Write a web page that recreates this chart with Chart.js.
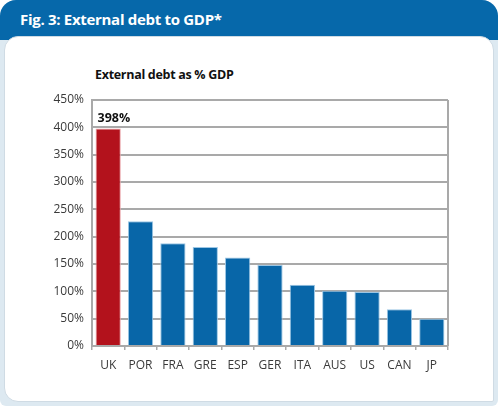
<!DOCTYPE html>
<html>
<head>
<meta charset="utf-8">
<script src="https://cdn.jsdelivr.net/npm/chart.js@4"></script>
<style>
  html, body { margin: 0; padding: 0; background: #ffffff; }
  #wrap { position: relative; width: 500px; height: 409px; overflow: hidden; }
  #outer { position: absolute; left: 0; top: 0; width: 498px; height: 406px;
           background: #dde9f1; border-radius: 16px 16px 6px 6px; }
  #header { position: absolute; left: 0; top: 0; width: 498px; height: 40px;
            background: #0668aa; border-radius: 16px 16px 0 0; }
  #htitle { position: absolute; left: 20px; top: 9px; color: #ffffff;
            font: bold 15px "Open Sans", "Noto Sans", sans-serif; letter-spacing: -0.3px; }
  #panel { position: absolute; left: 4px; top: 36px; width: 488px; height: 364px;
           background: #ffffff; border-radius: 14px 14px 2px 14px;
           border: 1px solid #cfdbe4; }
  #sub { position: absolute; left: 95px; top: 66px; color: #111;
         font: bold 12.5px "Open Sans", "Noto Sans", sans-serif; letter-spacing: -0.3px; }
  #c { position: absolute; left: 0; top: 0; }
</style>
</head>
<body>
<div id="wrap">
  <div id="outer"></div>
  <div id="header"></div>
  <div id="htitle">Fig. 3: External debt to GDP*</div>
  <div id="panel"></div>
  <div id="sub">External debt as % GDP</div>
  <canvas id="c" width="500" height="409"></canvas>
</div>
<script>
const categories = ["UK", "POR", "FRA", "GRE", "ESP", "GER", "ITA", "AUS", "US", "CAN", "JP"];
const debtPctGdp = [398, 228, 188, 181, 162, 148, 112, 101, 99, 67, 50];
const barColors = ["#b3121c", "#0866a8", "#0866a8", "#0866a8", "#0866a8", "#0866a8", "#0866a8", "#0866a8", "#0866a8", "#0866a8", "#0866a8"];
const barEdges = ["#e9a3a8", "#9cc6e4", "#9cc6e4", "#9cc6e4", "#9cc6e4", "#9cc6e4", "#9cc6e4", "#9cc6e4", "#9cc6e4", "#9cc6e4", "#9cc6e4"];
const labelledIndex = 0;

const frameAndLabel = {
  id: 'frameAndLabel',
  afterDatasetsDraw(chart) {
    const ctx = chart.ctx;
    const a = chart.chartArea;
    ctx.save();
    ctx.strokeStyle = '#a9a9a9';
    ctx.lineWidth = 2;
    ctx.beginPath();
    ctx.moveTo(a.right, a.top);
    ctx.lineTo(a.right, a.bottom);
    ctx.stroke();
    const bar = chart.getDatasetMeta(0).data[labelledIndex];
    ctx.fillStyle = '#111';
    ctx.font = 'bold 12.5px "Open Sans", "Noto Sans", sans-serif';
    ctx.textAlign = 'left';
    ctx.textBaseline = 'alphabetic';
    ctx.fillText(debtPctGdp[labelledIndex] + '%', bar.x - bar.width / 2 + 2, bar.y - 6);
    ctx.restore();
  }
};

new Chart(document.getElementById('c'), {
  type: 'bar',
  data: {
    labels: categories,
    datasets: [{
      data: debtPctGdp,
      backgroundColor: barColors,
      borderColor: barEdges,
      borderWidth: 1,
      categoryPercentage: 1,
      barPercentage: 0.78
    }]
  },
  options: {
    responsive: false,
    animation: false,
    layout: { padding: { top: 100, left: 40, right: 52, bottom: 30 } },
    plugins: { legend: { display: false }, title: { display: false }, tooltip: { enabled: false } },
    scales: {
      y: {
        min: 0, max: 450,
        afterFit(s) { s.width = 52; },
        ticks: { stepSize: 50, padding: 8, color: '#3a3a3a',
                 font: { family: '"Open Sans", "Noto Sans", sans-serif', size: 12 },
                 callback: v => v + '%' },
        grid: { color: '#a9a9a9', lineWidth: 2, drawTicks: false },
        border: { display: true, color: '#a9a9a9', width: 2 }
      },
      x: {
        afterFit(s) { s.height = 33; },
        ticks: { padding: 8, color: '#3a3a3a',
                 font: { family: '"Open Sans", "Noto Sans", sans-serif', size: 12 } },
        grid: { offset: true, drawOnChartArea: false, drawTicks: true, tickLength: 4, color: '#a9a9a9', lineWidth: 1.5 },
        border: { display: true, color: '#a9a9a9', width: 2 }
      }
    }
  },
  plugins: [frameAndLabel]
});
</script>
</body>
</html>
